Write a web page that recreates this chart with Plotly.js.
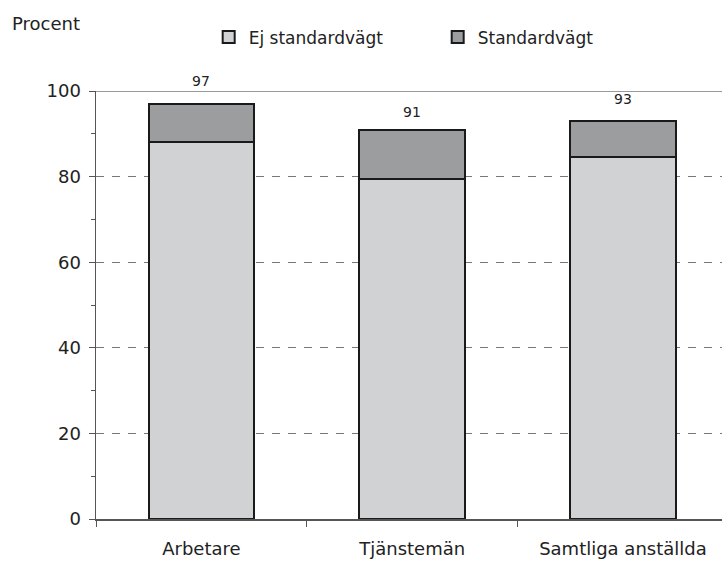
<!DOCTYPE html>
<html><head><meta charset="utf-8">
<script src="https://cdn.plot.ly/plotly-3.0.1.min.js"></script>
<style>html,body{margin:0;padding:0;overflow:hidden;background:#fff}</style>
</head><body>
<div id="chart" style="width:722px;height:561px"></div>
<script>
const categories = ["Arbetare", "Tjänstemän", "Samtliga anställda"];
const ejStandard = [88, 79.5, 84.5];
const standard = [9, 11.5, 8.5];
const totals = [97, 91, 93];
const labelShift = [20, 15, 19];

const FONT = 'DejaVu Sans, Verdana, sans-serif';

const traces = [
  {type: 'bar', name: 'Ej standardvägt', x: categories, y: ejStandard, width: 0.5,
   marker: {color: '#d1d2d4', line: {color: '#1a1a1a', width: 2}}},
  {type: 'bar', name: 'Standardvägt', x: categories, y: standard, width: 0.5,
   marker: {color: '#9c9d9f', line: {color: '#1a1a1a', width: 2}}}
];

const annotations = categories.map((c, i) => ({
  x: c, y: totals[i], xref: 'x', yref: 'y', text: String(totals[i]),
  showarrow: false, yanchor: 'bottom', yshift: labelShift[i] - 7,
  font: {family: FONT, size: 14, color: '#222'}
}));
annotations.push({
  xref: 'paper', yref: 'paper', x: -0.138, y: 1.157, xanchor: 'left', yanchor: 'middle',
  text: 'Procent', showarrow: false,
  font: {family: FONT, size: 18, color: '#222'}
});

const layout = {
  width: 722, height: 561,
  margin: {l: 96, r: 0, t: 91, b: 42},
  barmode: 'stack',
  plot_bgcolor: '#fff', paper_bgcolor: '#fff',
  font: {family: FONT, size: 18, color: '#222'},
  showlegend: true,
  legend: {orientation: 'h', x: 0.18, y: 1.125, xanchor: 'left', yanchor: 'middle',
           entrywidth: 184, font: {size: 17, color: '#222'}, traceorder: 'normal'},
  xaxis: {type: 'category', range: [-0.5, 2.47], tickson: 'boundaries',
          ticks: 'outside', ticklen: 6, tickcolor: '#555', tickwidth: 1,
          showline: true, linecolor: '#555', linewidth: 1.5, showgrid: false,
          ticklabelstandoff: 13, fixedrange: true, tickfont: {size: 18}},
  yaxis: {range: [0, 100], dtick: 20, tick0: 0, ticks: 'outside', ticklen: 6,
          tickcolor: '#555', showline: true, linecolor: '#555', linewidth: 1.5,
          showgrid: true, gridcolor: '#777', gridwidth: 1, griddash: '8px,8px',
          zeroline: false, ticklabelstandoff: 4, tickfont: {size: 18},
          minor: {dtick: 10, ticks: 'outside', ticklen: 4, tickcolor: '#555', showgrid: false}},
  shapes: [{type: 'line', xref: 'paper', yref: 'y', x0: 0, x1: 1, y0: 100, y1: 100,
            line: {color: '#999', width: 2}, layer: 'below'}],
  annotations: annotations
};

Plotly.newPlot('chart', traces, layout, {displayModeBar: false, staticPlot: true});
</script>
</body></html>
